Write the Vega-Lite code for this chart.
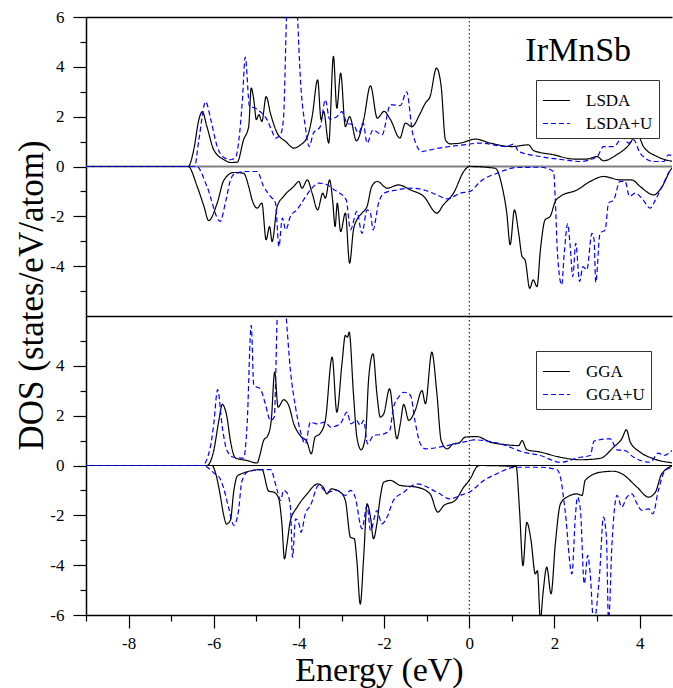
{
 "$schema": "https://vega.github.io/schema/vega-lite/v6.json",
 "padding": {"left": 14, "top": 8, "right": 0, "bottom": 0},
 "background": "white",
 "config": {
  "view": {"stroke": null},
  "axis": {"grid": false, "domain": false, "domainColor": "black", "domainWidth": 1.5, "tickColor": "black", "tickWidth": 1.2, "labelColor": "black", "labelFont": "Liberation Serif", "labelFontSize": 17, "titleFont": "Liberation Serif", "titleFontWeight": "normal", "titleColor": "black", "labelFlush": false, "labelOverlap": false, "labelExpr": "replace(datum.label, '\u2212', '-')"},
  "legend": {"orient": "none", "symbolType": "stroke", "symbolSize": 729, "symbolStrokeWidth": 1.2, "labelFont": "Liberation Serif", "labelFontSize": 17, "labelColor": "black", "labelOffset": 15, "rowPadding": -7, "padding": 6, "strokeColor": "#333333", "fillColor": "white"}
 },
 "spacing": 0,
 "bounds": "flush",
 "resolve": {"scale": {"color": "independent", "strokeDash": "independent"}, "legend": {"color": "independent", "strokeDash": "independent"}},
 "datasets": {
  "top": [
   {"method":"LSDA","spin":"up","E":-9,"DOS":0},{"method":"LSDA","spin":"up","E":-6.6,"DOS":0},{"method":"LSDA","spin":"up","E":-6.47,"DOS":0.67},{"method":"LSDA","spin":"up","E":-6.35,"DOS":1.88},{"method":"LSDA","spin":"up","E":-6.27,"DOS":2.2},{"method":"LSDA","spin":"up","E":-6.16,"DOS":1.6},{"method":"LSDA","spin":"up","E":-6.0,"DOS":0.67},{"method":"LSDA","spin":"up","E":-5.76,"DOS":0.27},{"method":"LSDA","spin":"up","E":-5.61,"DOS":0.16},{"method":"LSDA","spin":"up","E":-5.45,"DOS":0.17},{"method":"LSDA","spin":"up","E":-5.3,"DOS":1.07},{"method":"LSDA","spin":"up","E":-5.18,"DOS":1.6},{"method":"LSDA","spin":"up","E":-5.12,"DOS":3.15},{"method":"LSDA","spin":"up","E":-5.06,"DOS":2.68},{"method":"LSDA","spin":"up","E":-5.0,"DOS":1.88},{"method":"LSDA","spin":"up","E":-4.94,"DOS":2.08},{"method":"LSDA","spin":"up","E":-4.87,"DOS":1.81},{"method":"LSDA","spin":"up","E":-4.77,"DOS":2.81},{"method":"LSDA","spin":"up","E":-4.67,"DOS":2.14},{"method":"LSDA","spin":"up","E":-4.51,"DOS":1.34},{"method":"LSDA","spin":"up","E":-4.31,"DOS":1.0},{"method":"LSDA","spin":"up","E":-4.12,"DOS":0.74},{"method":"LSDA","spin":"up","E":-3.96,"DOS":0.87},{"method":"LSDA","spin":"up","E":-3.8,"DOS":1.2},{"method":"LSDA","spin":"up","E":-3.69,"DOS":2.0},{"method":"LSDA","spin":"up","E":-3.56,"DOS":3.48},{"method":"LSDA","spin":"up","E":-3.48,"DOS":1.88},{"method":"LSDA","spin":"up","E":-3.42,"DOS":2.21},{"method":"LSDA","spin":"up","E":-3.3,"DOS":0.94},{"method":"LSDA","spin":"up","E":-3.19,"DOS":4.42},{"method":"LSDA","spin":"up","E":-3.11,"DOS":2.34},{"method":"LSDA","spin":"up","E":-3.02,"DOS":3.75},{"method":"LSDA","spin":"up","E":-2.91,"DOS":1.6},{"method":"LSDA","spin":"up","E":-2.81,"DOS":2.0},{"method":"LSDA","spin":"up","E":-2.65,"DOS":1.03},{"method":"LSDA","spin":"up","E":-2.48,"DOS":1.88},{"method":"LSDA","spin":"up","E":-2.32,"DOS":3.24},{"method":"LSDA","spin":"up","E":-2.16,"DOS":1.94},{"method":"LSDA","spin":"up","E":-2.0,"DOS":2.21},{"method":"LSDA","spin":"up","E":-1.85,"DOS":1.88},{"method":"LSDA","spin":"up","E":-1.63,"DOS":1.14},{"method":"LSDA","spin":"up","E":-1.5,"DOS":1.74},{"method":"LSDA","spin":"up","E":-1.35,"DOS":1.6},{"method":"LSDA","spin":"up","E":-1.15,"DOS":2.14},{"method":"LSDA","spin":"up","E":-1.03,"DOS":2.55},{"method":"LSDA","spin":"up","E":-0.92,"DOS":2.81},{"method":"LSDA","spin":"up","E":-0.77,"DOS":3.95},{"method":"LSDA","spin":"up","E":-0.66,"DOS":3.21},{"method":"LSDA","spin":"up","E":-0.56,"DOS":1.07},{"method":"LSDA","spin":"up","E":-0.45,"DOS":0.91},{"method":"LSDA","spin":"up","E":-0.21,"DOS":0.94},{"method":"LSDA","spin":"up","E":0.14,"DOS":1.1},{"method":"LSDA","spin":"up","E":0.49,"DOS":0.94},{"method":"LSDA","spin":"up","E":1.0,"DOS":0.8},{"method":"LSDA","spin":"up","E":1.39,"DOS":0.87},{"method":"LSDA","spin":"up","E":1.51,"DOS":0.64},{"method":"LSDA","spin":"up","E":1.98,"DOS":0.47},{"method":"LSDA","spin":"up","E":2.45,"DOS":0.3},{"method":"LSDA","spin":"up","E":2.76,"DOS":0.3},{"method":"LSDA","spin":"up","E":3.0,"DOS":0.4},{"method":"LSDA","spin":"up","E":3.15,"DOS":0.23},{"method":"LSDA","spin":"up","E":3.46,"DOS":0.47},{"method":"LSDA","spin":"up","E":3.78,"DOS":0.94},{"method":"LSDA","spin":"up","E":3.93,"DOS":1.37},{"method":"LSDA","spin":"up","E":4.09,"DOS":0.8},{"method":"LSDA","spin":"up","E":4.41,"DOS":0.4},{"method":"LSDA","spin":"up","E":4.8,"DOS":0.2},
   {"method":"LSDA+U","spin":"up","E":-9,"DOS":0},{"method":"LSDA+U","spin":"up","E":-6.45,"DOS":0},{"method":"LSDA+U","spin":"up","E":-6.35,"DOS":1.07},{"method":"LSDA+U","spin":"up","E":-6.19,"DOS":2.6},{"method":"LSDA+U","spin":"up","E":-6.07,"DOS":1.88},{"method":"LSDA+U","spin":"up","E":-5.92,"DOS":0.8},{"method":"LSDA+U","spin":"up","E":-5.75,"DOS":0.35},{"method":"LSDA+U","spin":"up","E":-5.61,"DOS":0.27},{"method":"LSDA+U","spin":"up","E":-5.48,"DOS":0.4},{"method":"LSDA+U","spin":"up","E":-5.41,"DOS":1.07},{"method":"LSDA+U","spin":"up","E":-5.33,"DOS":2.6},{"method":"LSDA+U","spin":"up","E":-5.26,"DOS":4.39},{"method":"LSDA+U","spin":"up","E":-5.16,"DOS":2.41},{"method":"LSDA+U","spin":"up","E":-5.02,"DOS":2.34},{"method":"LSDA+U","spin":"up","E":-4.87,"DOS":2.14},{"method":"LSDA+U","spin":"up","E":-4.75,"DOS":1.88},{"method":"LSDA+U","spin":"up","E":-4.63,"DOS":1.41},{"method":"LSDA+U","spin":"up","E":-4.55,"DOS":1.14},{"method":"LSDA+U","spin":"up","E":-4.42,"DOS":1.34},{"method":"LSDA+U","spin":"up","E":-4.36,"DOS":2.0},{"method":"LSDA+U","spin":"up","E":-4.28,"DOS":6.5},{"method":"LSDA+U","spin":"up","E":-4.16,"DOS":8},{"method":"LSDA+U","spin":"up","E":-4.05,"DOS":6.5},{"method":"LSDA+U","spin":"up","E":-3.96,"DOS":3.35},{"method":"LSDA+U","spin":"up","E":-3.85,"DOS":1.6},{"method":"LSDA+U","spin":"up","E":-3.76,"DOS":0.8},{"method":"LSDA+U","spin":"up","E":-3.66,"DOS":1.34},{"method":"LSDA+U","spin":"up","E":-3.5,"DOS":1.6},{"method":"LSDA+U","spin":"up","E":-3.38,"DOS":2.68},{"method":"LSDA+U","spin":"up","E":-3.28,"DOS":1.9},{"method":"LSDA+U","spin":"up","E":-3.11,"DOS":2.0},{"method":"LSDA+U","spin":"up","E":-2.99,"DOS":2.2},{"method":"LSDA+U","spin":"up","E":-2.87,"DOS":1.74},{"method":"LSDA+U","spin":"up","E":-2.72,"DOS":1.67},{"method":"LSDA+U","spin":"up","E":-2.6,"DOS":1.34},{"method":"LSDA+U","spin":"up","E":-2.49,"DOS":1.74},{"method":"LSDA+U","spin":"up","E":-2.4,"DOS":0.94},{"method":"LSDA+U","spin":"up","E":-2.26,"DOS":1.47},{"method":"LSDA+U","spin":"up","E":-2.05,"DOS":1.27},{"method":"LSDA+U","spin":"up","E":-1.85,"DOS":2.48},{"method":"LSDA+U","spin":"up","E":-1.62,"DOS":2.44},{"method":"LSDA+U","spin":"up","E":-1.47,"DOS":3.0},{"method":"LSDA+U","spin":"up","E":-1.33,"DOS":1.34},{"method":"LSDA+U","spin":"up","E":-1.11,"DOS":0.6},{"method":"LSDA+U","spin":"up","E":-0.92,"DOS":0.67},{"method":"LSDA+U","spin":"up","E":-0.13,"DOS":0.87},{"method":"LSDA+U","spin":"up","E":0.26,"DOS":0.94},{"method":"LSDA+U","spin":"up","E":0.88,"DOS":0.8},{"method":"LSDA+U","spin":"up","E":1.04,"DOS":0.9},{"method":"LSDA+U","spin":"up","E":1.16,"DOS":0.6},{"method":"LSDA+U","spin":"up","E":1.67,"DOS":0.4},{"method":"LSDA+U","spin":"up","E":2.21,"DOS":0.27},{"method":"LSDA+U","spin":"up","E":2.61,"DOS":0.2},{"method":"LSDA+U","spin":"up","E":3.0,"DOS":0.4},{"method":"LSDA+U","spin":"up","E":3.15,"DOS":0.8},{"method":"LSDA+U","spin":"up","E":3.39,"DOS":0.8},{"method":"LSDA+U","spin":"up","E":3.61,"DOS":1.17},{"method":"LSDA+U","spin":"up","E":3.74,"DOS":0.94},{"method":"LSDA+U","spin":"up","E":3.86,"DOS":1.07},{"method":"LSDA+U","spin":"up","E":4.01,"DOS":0.54},{"method":"LSDA+U","spin":"up","E":4.33,"DOS":0.2},{"method":"LSDA+U","spin":"up","E":4.56,"DOS":0.2},{"method":"LSDA+U","spin":"up","E":4.68,"DOS":0.47},{"method":"LSDA+U","spin":"up","E":4.8,"DOS":0.4},
   {"method":"LSDA","spin":"down","E":-9,"DOS":0},{"method":"LSDA","spin":"down","E":-6.6,"DOS":0},{"method":"LSDA","spin":"down","E":-6.39,"DOS":-0.8},{"method":"LSDA","spin":"down","E":-6.23,"DOS":-1.6},{"method":"LSDA","spin":"down","E":-6.12,"DOS":-2.17},{"method":"LSDA","spin":"down","E":-5.92,"DOS":-1.47},{"method":"LSDA","spin":"down","E":-5.76,"DOS":-0.54},{"method":"LSDA","spin":"down","E":-5.53,"DOS":-0.24},{"method":"LSDA","spin":"down","E":-5.3,"DOS":-0.27},{"method":"LSDA","spin":"down","E":-5.18,"DOS":-0.8},{"method":"LSDA","spin":"down","E":-5.1,"DOS":-1.34},{"method":"LSDA","spin":"down","E":-4.98,"DOS":-1.67},{"method":"LSDA","spin":"down","E":-4.87,"DOS":-1.47},{"method":"LSDA","spin":"down","E":-4.77,"DOS":-2.94},{"method":"LSDA","spin":"down","E":-4.69,"DOS":-2.41},{"method":"LSDA","spin":"down","E":-4.63,"DOS":-3.01},{"method":"LSDA","spin":"down","E":-4.51,"DOS":-1.6},{"method":"LSDA","spin":"down","E":-4.36,"DOS":-1.2},{"method":"LSDA","spin":"down","E":-4.12,"DOS":-0.8},{"method":"LSDA","spin":"down","E":-4.0,"DOS":-0.6},{"method":"LSDA","spin":"down","E":-3.93,"DOS":-0.87},{"method":"LSDA","spin":"down","E":-3.8,"DOS":-0.54},{"method":"LSDA","spin":"down","E":-3.69,"DOS":-1.07},{"method":"LSDA","spin":"down","E":-3.56,"DOS":-1.74},{"method":"LSDA","spin":"down","E":-3.44,"DOS":-1.07},{"method":"LSDA","spin":"down","E":-3.38,"DOS":-1.27},{"method":"LSDA","spin":"down","E":-3.28,"DOS":-0.54},{"method":"LSDA","spin":"down","E":-3.21,"DOS":-1.34},{"method":"LSDA","spin":"down","E":-3.15,"DOS":-2.41},{"method":"LSDA","spin":"down","E":-3.1,"DOS":-1.47},{"method":"LSDA","spin":"down","E":-3.02,"DOS":-2.61},{"method":"LSDA","spin":"down","E":-2.91,"DOS":-1.87},{"method":"LSDA","spin":"down","E":-2.81,"DOS":-3.88},{"method":"LSDA","spin":"down","E":-2.72,"DOS":-2.54},{"method":"LSDA","spin":"down","E":-2.64,"DOS":-2.14},{"method":"LSDA","spin":"down","E":-2.52,"DOS":-1.87},{"method":"LSDA","spin":"down","E":-2.4,"DOS":-1.6},{"method":"LSDA","spin":"down","E":-2.29,"DOS":-0.8},{"method":"LSDA","spin":"down","E":-2.16,"DOS":-0.6},{"method":"LSDA","spin":"down","E":-1.93,"DOS":-0.87},{"method":"LSDA","spin":"down","E":-1.66,"DOS":-0.74},{"method":"LSDA","spin":"down","E":-1.38,"DOS":-0.94},{"method":"LSDA","spin":"down","E":-1.07,"DOS":-1.2},{"method":"LSDA","spin":"down","E":-0.76,"DOS":-1.87},{"method":"LSDA","spin":"down","E":-0.61,"DOS":-1.54},{"method":"LSDA","spin":"down","E":-0.37,"DOS":-1.07},{"method":"LSDA","spin":"down","E":-0.13,"DOS":-0.2},{"method":"LSDA","spin":"down","E":0.0,"DOS":0.0},{"method":"LSDA","spin":"down","E":0.61,"DOS":-0.07},{"method":"LSDA","spin":"down","E":0.77,"DOS":-0.8},{"method":"LSDA","spin":"down","E":0.88,"DOS":-1.87},{"method":"LSDA","spin":"down","E":0.96,"DOS":-3.14},{"method":"LSDA","spin":"down","E":1.06,"DOS":-1.74},{"method":"LSDA","spin":"down","E":1.16,"DOS":-2.68},{"method":"LSDA","spin":"down","E":1.24,"DOS":-3.61},{"method":"LSDA","spin":"down","E":1.31,"DOS":-3.75},{"method":"LSDA","spin":"down","E":1.42,"DOS":-4.89},{"method":"LSDA","spin":"down","E":1.5,"DOS":-4.55},{"method":"LSDA","spin":"down","E":1.59,"DOS":-4.82},{"method":"LSDA","spin":"down","E":1.67,"DOS":-3.35},{"method":"LSDA","spin":"down","E":1.78,"DOS":-2.14},{"method":"LSDA","spin":"down","E":1.9,"DOS":-2.0},{"method":"LSDA","spin":"down","E":2.02,"DOS":-1.4},{"method":"LSDA","spin":"down","E":2.14,"DOS":-1.2},{"method":"LSDA","spin":"down","E":2.53,"DOS":-0.94},{"method":"LSDA","spin":"down","E":2.84,"DOS":-0.6},{"method":"LSDA","spin":"down","E":3.15,"DOS":-0.4},{"method":"LSDA","spin":"down","E":3.55,"DOS":-0.54},{"method":"LSDA","spin":"down","E":3.82,"DOS":-0.54},{"method":"LSDA","spin":"down","E":4.01,"DOS":-0.8},{"method":"LSDA","spin":"down","E":4.33,"DOS":-1.14},{"method":"LSDA","spin":"down","E":4.53,"DOS":-0.8},{"method":"LSDA","spin":"down","E":4.73,"DOS":-0.13},{"method":"LSDA","spin":"down","E":4.8,"DOS":0},
   {"method":"LSDA+U","spin":"down","E":-9,"DOS":0},{"method":"LSDA+U","spin":"down","E":-6.4,"DOS":0},{"method":"LSDA+U","spin":"down","E":-6.16,"DOS":-0.8},{"method":"LSDA+U","spin":"down","E":-5.85,"DOS":-2.2},{"method":"LSDA+U","spin":"down","E":-5.72,"DOS":-1.4},{"method":"LSDA+U","spin":"down","E":-5.6,"DOS":-0.5},{"method":"LSDA+U","spin":"down","E":-5.49,"DOS":-0.27},{"method":"LSDA+U","spin":"down","E":-5.22,"DOS":-0.2},{"method":"LSDA+U","spin":"down","E":-4.98,"DOS":-0.2},{"method":"LSDA+U","spin":"down","E":-4.83,"DOS":-0.8},{"method":"LSDA+U","spin":"down","E":-4.67,"DOS":-1.2},{"method":"LSDA+U","spin":"down","E":-4.55,"DOS":-1.47},{"method":"LSDA+U","spin":"down","E":-4.47,"DOS":-3.21},{"method":"LSDA+U","spin":"down","E":-4.39,"DOS":-2.07},{"method":"LSDA+U","spin":"down","E":-4.31,"DOS":-2.54},{"method":"LSDA+U","spin":"down","E":-4.2,"DOS":-2.0},{"method":"LSDA+U","spin":"down","E":-4.05,"DOS":-1.74},{"method":"LSDA+U","spin":"down","E":-3.89,"DOS":-1.34},{"method":"LSDA+U","spin":"down","E":-3.73,"DOS":-0.94},{"method":"LSDA+U","spin":"down","E":-3.53,"DOS":-0.67},{"method":"LSDA+U","spin":"down","E":-3.33,"DOS":-0.74},{"method":"LSDA+U","spin":"down","E":-3.17,"DOS":-0.94},{"method":"LSDA+U","spin":"down","E":-3.11,"DOS":-1.0},{"method":"LSDA+U","spin":"down","E":-2.89,"DOS":-1.34},{"method":"LSDA+U","spin":"down","E":-2.79,"DOS":-2.54},{"method":"LSDA+U","spin":"down","E":-2.64,"DOS":-1.8},{"method":"LSDA+U","spin":"down","E":-2.52,"DOS":-2.68},{"method":"LSDA+U","spin":"down","E":-2.4,"DOS":-1.74},{"method":"LSDA+U","spin":"down","E":-2.32,"DOS":-1.87},{"method":"LSDA+U","spin":"down","E":-2.26,"DOS":-2.54},{"method":"LSDA+U","spin":"down","E":-2.13,"DOS":-1.47},{"method":"LSDA+U","spin":"down","E":-2.0,"DOS":-1.07},{"method":"LSDA+U","spin":"down","E":-1.69,"DOS":-0.94},{"method":"LSDA+U","spin":"down","E":-1.38,"DOS":-0.87},{"method":"LSDA+U","spin":"down","E":-1.07,"DOS":-0.94},{"method":"LSDA+U","spin":"down","E":-0.76,"DOS":-1.14},{"method":"LSDA+U","spin":"down","E":-0.52,"DOS":-1.3},{"method":"LSDA+U","spin":"down","E":-0.21,"DOS":-1.07},{"method":"LSDA+U","spin":"down","E":0.02,"DOS":-1.0},{"method":"LSDA+U","spin":"down","E":0.26,"DOS":-0.6},{"method":"LSDA+U","spin":"down","E":0.65,"DOS":-0.27},{"method":"LSDA+U","spin":"down","E":1.12,"DOS":-0.04},{"method":"LSDA+U","spin":"down","E":1.67,"DOS":-0.03},{"method":"LSDA+U","spin":"down","E":1.98,"DOS":-0.2},{"method":"LSDA+U","spin":"down","E":2.02,"DOS":-1.34},{"method":"LSDA+U","spin":"down","E":2.07,"DOS":-3.48},{"method":"LSDA+U","spin":"down","E":2.17,"DOS":-4.75},{"method":"LSDA+U","spin":"down","E":2.23,"DOS":-3.48},{"method":"LSDA+U","spin":"down","E":2.31,"DOS":-2.3},{"method":"LSDA+U","spin":"down","E":2.37,"DOS":-3.21},{"method":"LSDA+U","spin":"down","E":2.43,"DOS":-4.42},{"method":"LSDA+U","spin":"down","E":2.5,"DOS":-3.08},{"method":"LSDA+U","spin":"down","E":2.59,"DOS":-4.62},{"method":"LSDA+U","spin":"down","E":2.67,"DOS":-4.02},{"method":"LSDA+U","spin":"down","E":2.76,"DOS":-4.15},{"method":"LSDA+U","spin":"down","E":2.88,"DOS":-2.68},{"method":"LSDA+U","spin":"down","E":2.93,"DOS":-2.94},{"method":"LSDA+U","spin":"down","E":2.97,"DOS":-4.65},{"method":"LSDA+U","spin":"down","E":3.07,"DOS":-2.68},{"method":"LSDA+U","spin":"down","E":3.19,"DOS":-2.54},{"method":"LSDA+U","spin":"down","E":3.27,"DOS":-1.47},{"method":"LSDA+U","spin":"down","E":3.39,"DOS":-1.34},{"method":"LSDA+U","spin":"down","E":3.54,"DOS":-0.6},{"method":"LSDA+U","spin":"down","E":3.66,"DOS":-0.6},{"method":"LSDA+U","spin":"down","E":3.76,"DOS":-1.2},{"method":"LSDA+U","spin":"down","E":3.9,"DOS":-1.07},{"method":"LSDA+U","spin":"down","E":4.05,"DOS":-1.27},{"method":"LSDA+U","spin":"down","E":4.25,"DOS":-1.67},{"method":"LSDA+U","spin":"down","E":4.37,"DOS":-1.34},{"method":"LSDA+U","spin":"down","E":4.53,"DOS":-0.8},{"method":"LSDA+U","spin":"down","E":4.73,"DOS":-0.13},{"method":"LSDA+U","spin":"down","E":4.8,"DOS":-0.05}
  ],
  "bottom": [
   {"method":"GGA","spin":"up","E":-9,"DOS":0},{"method":"GGA","spin":"up","E":-6.16,"DOS":0},{"method":"GGA","spin":"up","E":-6.0,"DOS":0.6},{"method":"GGA","spin":"up","E":-5.88,"DOS":1.81},{"method":"GGA","spin":"up","E":-5.8,"DOS":2.45},{"method":"GGA","spin":"up","E":-5.69,"DOS":1.94},{"method":"GGA","spin":"up","E":-5.61,"DOS":1.0},{"method":"GGA","spin":"up","E":-5.49,"DOS":0.3},{"method":"GGA","spin":"up","E":-5.22,"DOS":0.2},{"method":"GGA","spin":"up","E":-4.98,"DOS":0.1},{"method":"GGA","spin":"up","E":-4.92,"DOS":0.4},{"method":"GGA","spin":"up","E":-4.83,"DOS":1.0},{"method":"GGA","spin":"up","E":-4.73,"DOS":1.2},{"method":"GGA","spin":"up","E":-4.65,"DOS":1.81},{"method":"GGA","spin":"up","E":-4.57,"DOS":3.75},{"method":"GGA","spin":"up","E":-4.49,"DOS":2.34},{"method":"GGA","spin":"up","E":-4.36,"DOS":2.64},{"method":"GGA","spin":"up","E":-4.24,"DOS":2.41},{"method":"GGA","spin":"up","E":-4.12,"DOS":1.67},{"method":"GGA","spin":"up","E":-3.97,"DOS":1.2},{"method":"GGA","spin":"up","E":-3.81,"DOS":0.94},{"method":"GGA","spin":"up","E":-3.71,"DOS":0.47},{"method":"GGA","spin":"up","E":-3.62,"DOS":1.14},{"method":"GGA","spin":"up","E":-3.51,"DOS":1.27},{"method":"GGA","spin":"up","E":-3.38,"DOS":1.81},{"method":"GGA","spin":"up","E":-3.22,"DOS":4.35},{"method":"GGA","spin":"up","E":-3.11,"DOS":2.14},{"method":"GGA","spin":"up","E":-2.99,"DOS":4.08},{"method":"GGA","spin":"up","E":-2.91,"DOS":5.22},{"method":"GGA","spin":"up","E":-2.86,"DOS":5.15},{"method":"GGA","spin":"up","E":-2.82,"DOS":5.35},{"method":"GGA","spin":"up","E":-2.72,"DOS":2.88},{"method":"GGA","spin":"up","E":-2.64,"DOS":1.14},{"method":"GGA","spin":"up","E":-2.54,"DOS":0.63},{"method":"GGA","spin":"up","E":-2.44,"DOS":1.14},{"method":"GGA","spin":"up","E":-2.36,"DOS":3.55},{"method":"GGA","spin":"up","E":-2.26,"DOS":4.48},{"method":"GGA","spin":"up","E":-2.17,"DOS":2.88},{"method":"GGA","spin":"up","E":-2.09,"DOS":1.94},{"method":"GGA","spin":"up","E":-2.01,"DOS":2.07},{"method":"GGA","spin":"up","E":-1.87,"DOS":3.08},{"method":"GGA","spin":"up","E":-1.78,"DOS":1.94},{"method":"GGA","spin":"up","E":-1.7,"DOS":1.07},{"method":"GGA","spin":"up","E":-1.62,"DOS":1.67},{"method":"GGA","spin":"up","E":-1.54,"DOS":2.45},{"method":"GGA","spin":"up","E":-1.42,"DOS":1.81},{"method":"GGA","spin":"up","E":-1.27,"DOS":2.21},{"method":"GGA","spin":"up","E":-1.11,"DOS":3.01},{"method":"GGA","spin":"up","E":-1.03,"DOS":2.48},{"method":"GGA","spin":"up","E":-0.88,"DOS":4.55},{"method":"GGA","spin":"up","E":-0.76,"DOS":2.88},{"method":"GGA","spin":"up","E":-0.66,"DOS":1.0},{"method":"GGA","spin":"up","E":-0.52,"DOS":0.67},{"method":"GGA","spin":"up","E":-0.37,"DOS":0.87},{"method":"GGA","spin":"up","E":-0.25,"DOS":0.9},{"method":"GGA","spin":"up","E":-0.09,"DOS":1.14},{"method":"GGA","spin":"up","E":0.18,"DOS":1.16},{"method":"GGA","spin":"up","E":0.49,"DOS":0.94},{"method":"GGA","spin":"up","E":0.88,"DOS":0.83},{"method":"GGA","spin":"up","E":1.16,"DOS":0.8},{"method":"GGA","spin":"up","E":1.24,"DOS":1.0},{"method":"GGA","spin":"up","E":1.35,"DOS":0.63},{"method":"GGA","spin":"up","E":1.67,"DOS":0.54},{"method":"GGA","spin":"up","E":2.06,"DOS":0.36},{"method":"GGA","spin":"up","E":2.61,"DOS":0.23},{"method":"GGA","spin":"up","E":3.08,"DOS":0.29},{"method":"GGA","spin":"up","E":3.39,"DOS":0.74},{"method":"GGA","spin":"up","E":3.58,"DOS":1.07},{"method":"GGA","spin":"up","E":3.69,"DOS":1.43},{"method":"GGA","spin":"up","E":3.78,"DOS":0.94},{"method":"GGA","spin":"up","E":4.01,"DOS":0.54},{"method":"GGA","spin":"up","E":4.33,"DOS":0.27},{"method":"GGA","spin":"up","E":4.8,"DOS":0.1},
   {"method":"GGA+U","spin":"up","E":-9,"DOS":0},{"method":"GGA+U","spin":"up","E":-6.27,"DOS":0},{"method":"GGA+U","spin":"up","E":-6.08,"DOS":0.74},{"method":"GGA+U","spin":"up","E":-6.0,"DOS":1.67},{"method":"GGA+U","spin":"up","E":-5.91,"DOS":3.05},{"method":"GGA+U","spin":"up","E":-5.8,"DOS":1.54},{"method":"GGA+U","spin":"up","E":-5.69,"DOS":0.6},{"method":"GGA+U","spin":"up","E":-5.53,"DOS":0.33},{"method":"GGA+U","spin":"up","E":-5.3,"DOS":0.3},{"method":"GGA+U","spin":"up","E":-5.22,"DOS":1.54},{"method":"GGA+U","spin":"up","E":-5.12,"DOS":5.62},{"method":"GGA+U","spin":"up","E":-5.06,"DOS":3.21},{"method":"GGA+U","spin":"up","E":-4.91,"DOS":3.08},{"method":"GGA+U","spin":"up","E":-4.79,"DOS":2.48},{"method":"GGA+U","spin":"up","E":-4.67,"DOS":1.81},{"method":"GGA+U","spin":"up","E":-4.58,"DOS":1.94},{"method":"GGA+U","spin":"up","E":-4.5,"DOS":6.5},{"method":"GGA+U","spin":"up","E":-4.4,"DOS":8},{"method":"GGA+U","spin":"up","E":-4.31,"DOS":6.2},{"method":"GGA+U","spin":"up","E":-4.2,"DOS":3.82},{"method":"GGA+U","spin":"up","E":-4.08,"DOS":2.34},{"method":"GGA+U","spin":"up","E":-3.97,"DOS":1.4},{"method":"GGA+U","spin":"up","E":-3.85,"DOS":0.87},{"method":"GGA+U","spin":"up","E":-3.73,"DOS":1.74},{"method":"GGA+U","spin":"up","E":-3.58,"DOS":1.67},{"method":"GGA+U","spin":"up","E":-3.38,"DOS":1.74},{"method":"GGA+U","spin":"up","E":-3.26,"DOS":1.54},{"method":"GGA+U","spin":"up","E":-3.03,"DOS":1.67},{"method":"GGA+U","spin":"up","E":-2.87,"DOS":2.14},{"method":"GGA+U","spin":"up","E":-2.78,"DOS":1.67},{"method":"GGA+U","spin":"up","E":-2.65,"DOS":1.81},{"method":"GGA+U","spin":"up","E":-2.56,"DOS":1.61},{"method":"GGA+U","spin":"up","E":-2.48,"DOS":1.81},{"method":"GGA+U","spin":"up","E":-2.39,"DOS":0.87},{"method":"GGA+U","spin":"up","E":-2.25,"DOS":1.2},{"method":"GGA+U","spin":"up","E":-2.01,"DOS":1.27},{"method":"GGA+U","spin":"up","E":-1.87,"DOS":1.4},{"method":"GGA+U","spin":"up","E":-1.78,"DOS":2.34},{"method":"GGA+U","spin":"up","E":-1.66,"DOS":2.74},{"method":"GGA+U","spin":"up","E":-1.53,"DOS":2.94},{"method":"GGA+U","spin":"up","E":-1.38,"DOS":2.81},{"method":"GGA+U","spin":"up","E":-1.27,"DOS":1.74},{"method":"GGA+U","spin":"up","E":-1.15,"DOS":0.87},{"method":"GGA+U","spin":"up","E":-1.03,"DOS":0.67},{"method":"GGA+U","spin":"up","E":-0.52,"DOS":0.8},{"method":"GGA+U","spin":"up","E":0.02,"DOS":1.0},{"method":"GGA+U","spin":"up","E":0.1,"DOS":1.03},{"method":"GGA+U","spin":"up","E":0.73,"DOS":0.87},{"method":"GGA+U","spin":"up","E":1.27,"DOS":0.54},{"method":"GGA+U","spin":"up","E":1.67,"DOS":0.4},{"method":"GGA+U","spin":"up","E":2.14,"DOS":0.13},{"method":"GGA+U","spin":"up","E":2.61,"DOS":0.33},{"method":"GGA+U","spin":"up","E":2.84,"DOS":0.4},{"method":"GGA+U","spin":"up","E":2.93,"DOS":0.98},{"method":"GGA+U","spin":"up","E":3.31,"DOS":1.07},{"method":"GGA+U","spin":"up","E":3.47,"DOS":0.63},{"method":"GGA+U","spin":"up","E":3.66,"DOS":0.6},{"method":"GGA+U","spin":"up","E":3.86,"DOS":0.33},{"method":"GGA+U","spin":"up","E":4.25,"DOS":0.13},{"method":"GGA+U","spin":"up","E":4.44,"DOS":0.5},{"method":"GGA+U","spin":"up","E":4.56,"DOS":0.4},{"method":"GGA+U","spin":"up","E":4.8,"DOS":0.67},
   {"method":"GGA","spin":"down","E":-9,"DOS":0},{"method":"GGA","spin":"down","E":-6.04,"DOS":0},{"method":"GGA","spin":"down","E":-5.97,"DOS":-0.23},{"method":"GGA","spin":"down","E":-5.85,"DOS":-1.17},{"method":"GGA","spin":"down","E":-5.77,"DOS":-1.97},{"method":"GGA","spin":"down","E":-5.7,"DOS":-2.35},{"method":"GGA","spin":"down","E":-5.61,"DOS":-2.2},{"method":"GGA","spin":"down","E":-5.53,"DOS":-1.03},{"method":"GGA","spin":"down","E":-5.45,"DOS":-0.43},{"method":"GGA","spin":"down","E":-5.3,"DOS":-0.3},{"method":"GGA","spin":"down","E":-4.87,"DOS":-0.16},{"method":"GGA","spin":"down","E":-4.71,"DOS":-1.03},{"method":"GGA","spin":"down","E":-4.59,"DOS":-1.07},{"method":"GGA","spin":"down","E":-4.48,"DOS":-1.3},{"method":"GGA","spin":"down","E":-4.4,"DOS":-2.34},{"method":"GGA","spin":"down","E":-4.34,"DOS":-3.75},{"method":"GGA","spin":"down","E":-4.28,"DOS":-3.15},{"method":"GGA","spin":"down","E":-4.2,"DOS":-2.21},{"method":"GGA","spin":"down","E":-4.04,"DOS":-1.67},{"method":"GGA","spin":"down","E":-3.81,"DOS":-1.14},{"method":"GGA","spin":"down","E":-3.56,"DOS":-0.74},{"method":"GGA","spin":"down","E":-3.43,"DOS":-0.87},{"method":"GGA","spin":"down","E":-3.34,"DOS":-1.14},{"method":"GGA","spin":"down","E":-3.24,"DOS":-0.94},{"method":"GGA","spin":"down","E":-3.03,"DOS":-1.07},{"method":"GGA","spin":"down","E":-2.91,"DOS":-1.4},{"method":"GGA","spin":"down","E":-2.79,"DOS":-2.88},{"method":"GGA","spin":"down","E":-2.7,"DOS":-2.94},{"method":"GGA","spin":"down","E":-2.64,"DOS":-3.82},{"method":"GGA","spin":"down","E":-2.56,"DOS":-5.56},{"method":"GGA","spin":"down","E":-2.48,"DOS":-3.68},{"method":"GGA","spin":"down","E":-2.4,"DOS":-1.54},{"method":"GGA","spin":"down","E":-2.32,"DOS":-2.07},{"method":"GGA","spin":"down","E":-2.25,"DOS":-2.94},{"method":"GGA","spin":"down","E":-2.17,"DOS":-2.34},{"method":"GGA","spin":"down","E":-2.09,"DOS":-1.27},{"method":"GGA","spin":"down","E":-2.01,"DOS":-0.67},{"method":"GGA","spin":"down","E":-1.85,"DOS":-0.6},{"method":"GGA","spin":"down","E":-1.62,"DOS":-0.8},{"method":"GGA","spin":"down","E":-1.23,"DOS":-0.87},{"method":"GGA","spin":"down","E":-0.92,"DOS":-1.14},{"method":"GGA","spin":"down","E":-0.74,"DOS":-1.87},{"method":"GGA","spin":"down","E":-0.6,"DOS":-1.61},{"method":"GGA","spin":"down","E":-0.33,"DOS":-1.4},{"method":"GGA","spin":"down","E":-0.13,"DOS":-0.87},{"method":"GGA","spin":"down","E":0.02,"DOS":-0.54},{"method":"GGA","spin":"down","E":0.18,"DOS":-0.05},{"method":"GGA","spin":"down","E":0.25,"DOS":0},{"method":"GGA","spin":"down","E":1.1,"DOS":-0.04},{"method":"GGA","spin":"down","E":1.18,"DOS":-1.8},{"method":"GGA","spin":"down","E":1.26,"DOS":-4.02},{"method":"GGA","spin":"down","E":1.35,"DOS":-2.28},{"method":"GGA","spin":"down","E":1.45,"DOS":-3.01},{"method":"GGA","spin":"down","E":1.55,"DOS":-4.35},{"method":"GGA","spin":"down","E":1.6,"DOS":-4.22},{"method":"GGA","spin":"down","E":1.67,"DOS":-6.2},{"method":"GGA","spin":"down","E":1.73,"DOS":-5.15},{"method":"GGA","spin":"down","E":1.82,"DOS":-4.08},{"method":"GGA","spin":"down","E":1.92,"DOS":-5.15},{"method":"GGA","spin":"down","E":2.02,"DOS":-3.15},{"method":"GGA","spin":"down","E":2.14,"DOS":-1.54},{"method":"GGA","spin":"down","E":2.29,"DOS":-1.27},{"method":"GGA","spin":"down","E":2.53,"DOS":-1.14},{"method":"GGA","spin":"down","E":2.65,"DOS":-1.2},{"method":"GGA","spin":"down","E":2.72,"DOS":-0.6},{"method":"GGA","spin":"down","E":3.08,"DOS":-0.27},{"method":"GGA","spin":"down","E":3.39,"DOS":-0.23},{"method":"GGA","spin":"down","E":3.58,"DOS":-0.33},{"method":"GGA","spin":"down","E":3.94,"DOS":-0.87},{"method":"GGA","spin":"down","E":4.21,"DOS":-1.27},{"method":"GGA","spin":"down","E":4.37,"DOS":-1.07},{"method":"GGA","spin":"down","E":4.52,"DOS":-0.33},{"method":"GGA","spin":"down","E":4.8,"DOS":0},
   {"method":"GGA+U","spin":"down","E":-9,"DOS":0},{"method":"GGA+U","spin":"down","E":-6.24,"DOS":0},{"method":"GGA+U","spin":"down","E":-6.0,"DOS":-0.3},{"method":"GGA+U","spin":"down","E":-5.86,"DOS":-0.5},{"method":"GGA+U","spin":"down","E":-5.77,"DOS":-0.9},{"method":"GGA+U","spin":"down","E":-5.65,"DOS":-1.7},{"method":"GGA+U","spin":"down","E":-5.53,"DOS":-2.4},{"method":"GGA+U","spin":"down","E":-5.42,"DOS":-1.83},{"method":"GGA+U","spin":"down","E":-5.34,"DOS":-0.63},{"method":"GGA+U","spin":"down","E":-5.18,"DOS":-0.23},{"method":"GGA+U","spin":"down","E":-4.67,"DOS":-0.16},{"method":"GGA+U","spin":"down","E":-4.51,"DOS":-1.0},{"method":"GGA+U","spin":"down","E":-4.43,"DOS":-1.4},{"method":"GGA+U","spin":"down","E":-4.36,"DOS":-1.0},{"method":"GGA+U","spin":"down","E":-4.28,"DOS":-1.1},{"method":"GGA+U","spin":"down","E":-4.2,"DOS":-1.67},{"method":"GGA+U","spin":"down","E":-4.15,"DOS":-3.68},{"method":"GGA+U","spin":"down","E":-4.08,"DOS":-2.14},{"method":"GGA+U","spin":"down","E":-4.0,"DOS":-2.34},{"method":"GGA+U","spin":"down","E":-3.95,"DOS":-2.68},{"method":"GGA+U","spin":"down","E":-3.85,"DOS":-1.94},{"method":"GGA+U","spin":"down","E":-3.73,"DOS":-1.61},{"method":"GGA+U","spin":"down","E":-3.54,"DOS":-0.8},{"method":"GGA+U","spin":"down","E":-3.34,"DOS":-1.07},{"method":"GGA+U","spin":"down","E":-3.11,"DOS":-1.0},{"method":"GGA+U","spin":"down","E":-2.91,"DOS":-1.2},{"method":"GGA+U","spin":"down","E":-2.79,"DOS":-1.0},{"method":"GGA+U","spin":"down","E":-2.68,"DOS":-1.27},{"method":"GGA+U","spin":"down","E":-2.52,"DOS":-2.54},{"method":"GGA+U","spin":"down","E":-2.4,"DOS":-1.61},{"method":"GGA+U","spin":"down","E":-2.32,"DOS":-2.61},{"method":"GGA+U","spin":"down","E":-2.17,"DOS":-1.81},{"method":"GGA+U","spin":"down","E":-2.05,"DOS":-2.34},{"method":"GGA+U","spin":"down","E":-1.93,"DOS":-2.07},{"method":"GGA+U","spin":"down","E":-1.78,"DOS":-1.4},{"method":"GGA+U","spin":"down","E":-1.54,"DOS":-1.07},{"method":"GGA+U","spin":"down","E":-1.23,"DOS":-0.74},{"method":"GGA+U","spin":"down","E":-0.76,"DOS":-1.07},{"method":"GGA+U","spin":"down","E":-0.45,"DOS":-1.34},{"method":"GGA+U","spin":"down","E":-0.21,"DOS":-1.2},{"method":"GGA+U","spin":"down","E":0.02,"DOS":-1.05},{"method":"GGA+U","spin":"down","E":0.34,"DOS":-0.6},{"method":"GGA+U","spin":"down","E":0.65,"DOS":-0.33},{"method":"GGA+U","spin":"down","E":1.08,"DOS":-0.07},{"method":"GGA+U","spin":"down","E":1.67,"DOS":-0.07},{"method":"GGA+U","spin":"down","E":2.06,"DOS":-0.17},{"method":"GGA+U","spin":"down","E":2.14,"DOS":-0.47},{"method":"GGA+U","spin":"down","E":2.25,"DOS":-1.8},{"method":"GGA+U","spin":"down","E":2.41,"DOS":-4.35},{"method":"GGA+U","spin":"down","E":2.49,"DOS":-2.07},{"method":"GGA+U","spin":"down","E":2.54,"DOS":-1.27},{"method":"GGA+U","spin":"down","E":2.61,"DOS":-1.8},{"method":"GGA+U","spin":"down","E":2.7,"DOS":-4.75},{"method":"GGA+U","spin":"down","E":2.78,"DOS":-3.61},{"method":"GGA+U","spin":"down","E":2.84,"DOS":-4.35},{"method":"GGA+U","spin":"down","E":2.92,"DOS":-6.3},{"method":"GGA+U","spin":"down","E":3.06,"DOS":-4.35},{"method":"GGA+U","spin":"down","E":3.15,"DOS":-2.07},{"method":"GGA+U","spin":"down","E":3.22,"DOS":-2.88},{"method":"GGA+U","spin":"down","E":3.27,"DOS":-6.3},{"method":"GGA+U","spin":"down","E":3.35,"DOS":-3.15},{"method":"GGA+U","spin":"down","E":3.47,"DOS":-1.2},{"method":"GGA+U","spin":"down","E":3.58,"DOS":-1.67},{"method":"GGA+U","spin":"down","E":3.7,"DOS":-1.27},{"method":"GGA+U","spin":"down","E":3.82,"DOS":-1.14},{"method":"GGA+U","spin":"down","E":3.94,"DOS":-1.54},{"method":"GGA+U","spin":"down","E":4.05,"DOS":-1.8},{"method":"GGA+U","spin":"down","E":4.21,"DOS":-1.74},{"method":"GGA+U","spin":"down","E":4.31,"DOS":-1.94},{"method":"GGA+U","spin":"down","E":4.44,"DOS":-1.0},{"method":"GGA+U","spin":"down","E":4.6,"DOS":-0.2},{"method":"GGA+U","spin":"down","E":4.8,"DOS":-0.07}
  ]
 },
 "vconcat": [
  {
   "width": 586, "height": 299,
   "resolve": {"axis": {"x": "independent", "y": "independent"}},
   "layer": [
    {"data": {"values": [{}]}, "mark": {"type": "rule", "color": "#808080", "strokeWidth": 2.2},
     "encoding": {"y": {"datum": 0, "type": "quantitative", "scale": {"domain": [-6, 6], "nice": false}, "axis": {"orient": "left", "values": [-5, -3, -1, 1, 3, 5], "tickSize": 6, "labels": false, "title": null, "domain": false}}}},
    {"data": {"values": [{}]}, "mark": {"type": "rule", "color": "black", "strokeWidth": 1, "strokeDash": [1.5, 2.5]},
     "encoding": {"x": {"datum": 0, "type": "quantitative", "scale": {"domain": [-9, 4.76], "nice": false, "zero": false}, "axis": {"orient": "bottom", "ticks": false, "labels": false, "title": null, "domain": true}}}},
    {"data": {"values": [{"name": "IrMnSb"}]}, "mark": {"type": "text", "align": "right", "baseline": "alphabetic", "font": "Liberation Serif", "fontSize": 34, "color": "black"},
     "encoding": {"x": {"datum": 3.8, "type": "quantitative", "scale": {"domain": [-9, 4.76], "nice": false, "zero": false}, "axis": null}, "y": {"datum": 4.22, "type": "quantitative", "scale": {"domain": [-6, 6], "nice": false}, "axis": null}, "text": {"field": "name"}}},
    {"data": {"name": "top"}, "mark": {"type": "line", "strokeWidth": 1.2, "clip": true, "interpolate": "monotone"},
     "encoding": {
      "x": {"field": "E", "type": "quantitative", "scale": {"domain": [-9, 4.76], "nice": false, "zero": false}, "axis": {"orient": "top", "ticks": false, "labels": false, "title": null, "domain": true}},
      "y": {"field": "DOS", "type": "quantitative", "scale": {"domain": [-6, 6], "nice": false}, "axis": {"orient": "left", "domain": true, "values": [-4, -2, 0, 2, 4, 6], "tickSize": 13, "labelPadding": 9, "title": "DOS (states/eV/atom)", "titleFontSize": 35, "titleX": -44, "titleY": 278, "titleAngle": -90, "titleAlign": "center", "titleBaseline": "alphabetic"}},
      "color": {"field": "method", "type": "nominal", "scale": {"domain": ["LSDA", "LSDA+U"], "range": ["black", "#0000ff"]}, "legend": {"title": null, "legendX": 450, "legendY": 63}},
      "strokeDash": {"field": "method", "type": "nominal", "scale": {"domain": ["LSDA", "LSDA+U"], "range": [[1, 0], [5, 3]]}, "legend": {"title": null, "legendX": 450, "legendY": 63}},
      "detail": {"field": "spin"}
     }}
   ]
  },
  {
   "width": 586, "height": 299,
   "resolve": {"axis": {"x": "independent", "y": "independent"}},
   "layer": [
    {"data": {"values": [{}]}, "mark": {"type": "rule", "color": "black", "strokeWidth": 1.2},
     "encoding": {"y": {"datum": 0, "type": "quantitative", "scale": {"domain": [-6, 6], "nice": false}, "axis": {"orient": "left", "values": [-5, -3, -1, 1, 3, 5], "tickSize": 6, "labels": false, "title": null, "domain": false}}}},
    {"data": {"values": [{}]}, "mark": {"type": "rule", "color": "black", "strokeWidth": 1, "strokeDash": [1.5, 2.5]},
     "encoding": {"x": {"datum": 0, "type": "quantitative", "scale": {"domain": [-9, 4.76], "nice": false, "zero": false}, "axis": {"orient": "bottom", "values": [-9, -7, -5, -3, -1, 1, 3], "tickSize": 6, "labels": false, "title": null, "domain": false}}}},
    {"data": {"name": "bottom"}, "mark": {"type": "line", "strokeWidth": 1.2, "clip": true, "interpolate": "monotone"},
     "encoding": {
      "x": {"field": "E", "type": "quantitative", "scale": {"domain": [-9, 4.76], "nice": false, "zero": false}, "axis": {"orient": "bottom", "domain": true, "values": [-8, -6, -4, -2, 0, 2, 4], "tickSize": 13, "labelPadding": 7, "title": "Energy (eV)", "titleFontSize": 34, "titleY": 65.5, "titleBaseline": "alphabetic"}},
      "y": {"field": "DOS", "type": "quantitative", "scale": {"domain": [-6, 6], "nice": false}, "axis": {"orient": "left", "domain": true, "values": [-6, -4, -2, 0, 2, 4], "tickSize": 13, "labelPadding": 9, "title": null}},
      "color": {"field": "method", "type": "nominal", "scale": {"domain": ["GGA", "GGA+U"], "range": ["black", "#0000ff"]}, "legend": {"title": null, "legendX": 450, "legendY": 35}},
      "strokeDash": {"field": "method", "type": "nominal", "scale": {"domain": ["GGA", "GGA+U"], "range": [[1, 0], [5, 3]]}, "legend": {"title": null, "legendX": 450, "legendY": 35}},
      "detail": {"field": "spin"}
     }}
   ]
  }
 ]
}
